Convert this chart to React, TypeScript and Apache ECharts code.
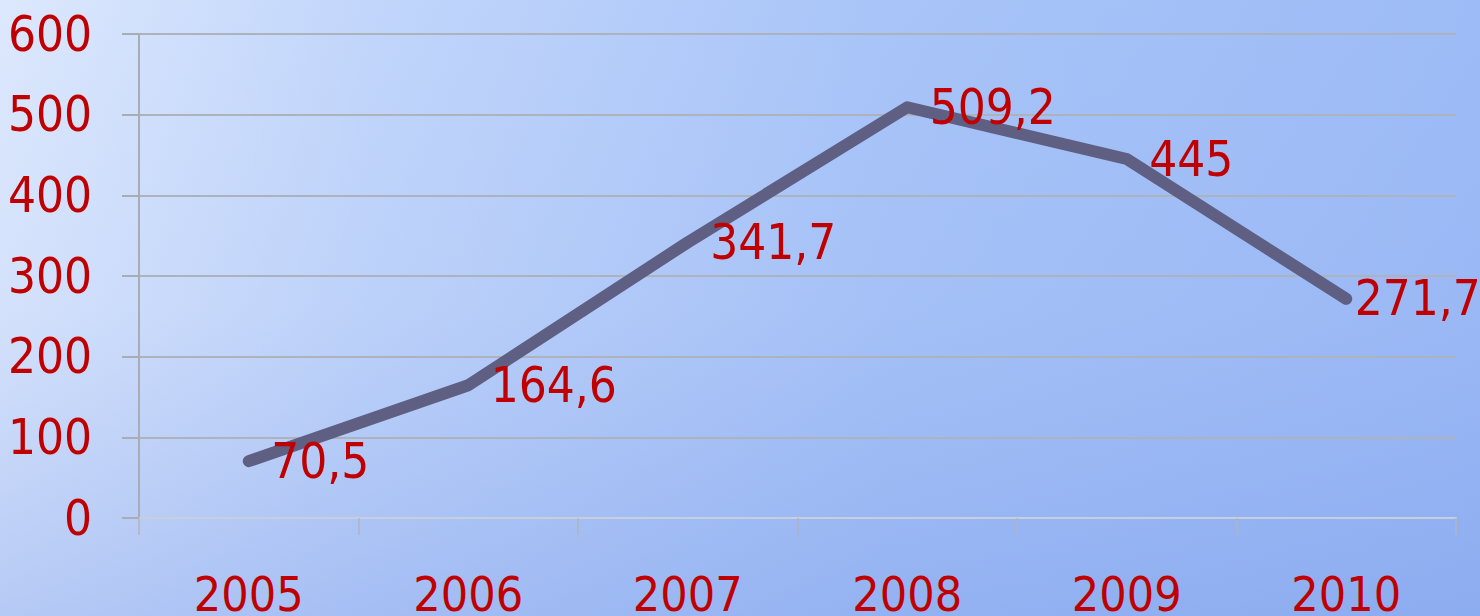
import React, { useEffect, useRef } from "react";
import * as echarts from "echarts";

const years = ["2005", "2006", "2007", "2008", "2009", "2010"];
const values = [70.5, 164.6, 341.7, 509.2, 445, 271.7];
const yTicks = [0, 100, 200, 300, 400, 500, 600];

const FONT = "'DejaVu Sans Condensed', 'DejaVu Sans', sans-serif";
const RED = "#c00000";

export default function App() {
  const ref = useRef<HTMLDivElement>(null);
  useEffect(() => {
    if (!ref.current) return;
    const chart = echarts.init(ref.current, null, { renderer: "svg" });
    const fmt = (v: number) => String(v).replace(".", ",");
    chart.setOption({
      animation: false,
      backgroundColor: new echarts.graphic.LinearGradient(0, 0, 1, 0, [
        { offset: 0, color: "#dce8fd" },
        { offset: 0.25, color: "#c2d6fb" },
        { offset: 0.6, color: "#a8c4f8" },
        { offset: 1, color: "#9dbbf6" },
      ]),
      graphic: [
        {
          type: "rect",
          silent: true,
          z: -10,
          shape: { x: 0, y: 0, width: 1480, height: 616 },
          style: {
            fill: new echarts.graphic.LinearGradient(0, 0, 0, 1, [
              { offset: 0, color: "rgba(120,150,230,0)" },
              { offset: 0.5, color: "rgba(120,150,230,0.08)" },
              { offset: 1, color: "rgba(110,145,230,0.35)" },
            ]),
          },
        },
      ],
      grid: {
        left: 139,
        right: 24,
        top: 34,
        bottom: 98,
        containLabel: false,
        outerBoundsMode: "none",
      },
      xAxis: {
        type: "category",
        data: years,
        boundaryGap: true,
        axisLine: { show: true, lineStyle: { color: "#c8cfdc", width: 2 } },
        axisTick: { show: true, length: 17, lineStyle: { color: "#b0b4bc", width: 1.5 } },
        axisLabel: {
          color: RED,
          fontSize: 48,
          fontFamily: FONT,
          margin: 58,
          lineHeight: 36,
        },
        splitLine: { show: false },
      },
      yAxis: {
        type: "value",
        min: 0,
        max: 600,
        interval: 100,
        axisLine: { show: true, lineStyle: { color: "#a8acb4", width: 2 } },
        axisTick: { show: true, length: 17, lineStyle: { color: "#a8acb4", width: 2 } },
        axisLabel: {
          color: RED,
          fontSize: 49,
          fontFamily: FONT,
          margin: 47,
          formatter: (v: number) => (yTicks.includes(v) ? String(v) : ""),
        },
        splitLine: { show: true, lineStyle: { color: "#aeb2ba", width: 2 } },
      },
      series: [
        {
          type: "line",
          data: values.map((v, i) =>
            i === values.length - 1 ? { value: v, label: { distance: 8 } } : v
          ),
          symbol: "circle",
          symbolSize: 1,
          showSymbol: true,
          itemStyle: { color: "rgba(0,0,0,0)" },
          lineStyle: { color: "#5e5f82", width: 12, cap: "round", join: "round" },
          label: {
            show: true,
            position: "right",
            distance: 22,
            color: RED,
            fontSize: 49,
            fontFamily: FONT,
            formatter: (p: any) => fmt(p.value),
          },
          labelLayout: { hideOverlap: false },
          z: 3,
        },
      ],
    });
    return () => chart.dispose();
  }, []);
  return (
    <div
      ref={ref}
      style={{ position: "fixed", left: 0, top: 0, width: 1480, height: 616 }}
    />
  );
}
